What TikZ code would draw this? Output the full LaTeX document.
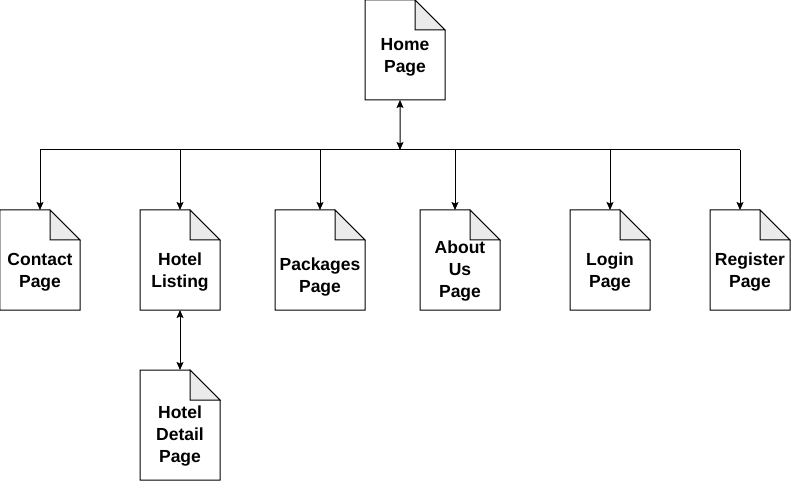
\documentclass[tikz,border=0pt]{standalone}
\usepackage{fontspec}
\setmainfont{Liberation Sans}
\usetikzlibrary{arrows.meta,calc}
\tikzset{
  pagebox/.style={draw=none, rectangle, inner sep=0pt, outer sep=0pt},
  pagetext/.style={align=center, inner sep=0pt, font=\fontsize{17.5bp}{22bp}\selectfont\bfseries},
  docline/.style={draw=black, line width=1bp, fill=white, line join=miter},
  foldline/.style={draw=black, line width=1bp, fill=fold, line join=miter},
  conn/.style={draw=black, line width=1bp, -{Stealth[length=8bp,width=7bp,inset=1.5bp]}},
  bconn/.style={draw=black, line width=1bp, {Stealth[length=8bp,width=7bp,inset=1.5bp]}-{Stealth[length=8bp,width=7bp,inset=1.5bp]}},
  busline/.style={draw=black, line width=1bp}
}
\definecolor{fold}{HTML}{EBEBEB}
\newcommand\docpage[7]{% name, cx, cy, w, h, text offset, text
  \node[pagebox, minimum width=#4bp, minimum height=#5bp] (#1) at (#2,#3) {};
  \path[docline] (#1.north west) -- ([xshift=-30bp]#1.north east) -- ([yshift=-30bp]#1.north east) -- (#1.south east) -- (#1.south west) -- cycle;
  \path[foldline] ([xshift=-30bp]#1.north east) -- ([xshift=-30bp,yshift=-30bp]#1.north east) -- ([yshift=-30bp]#1.north east) -- cycle;
  \node[pagetext] (#1-t) at ($(#1.center)+(0,#6)$) {#7};
}
\begin{document}
\begin{tikzpicture}[x=1bp, y=-1bp]
\useasboundingbox (0,0) rectangle (791,481);
\fill[white] (0,0) rectangle (791,481);
\docpage{home}{405}{50}{80}{100}{7.5}{Home\\Page}
\docpage{contact}{40}{260}{80}{100}{12}{Contact\\Page}
\docpage{listing}{180}{260}{80}{100}{12}{Hotel\\Listing}
\docpage{packages}{320}{260}{90}{100}{17}{Packages\\Page}
\docpage{about}{460}{260}{80}{100}{11.5}{About\\Us\\Page}
\docpage{login}{610}{260}{80}{100}{12}{Login\\Page}
\docpage{register}{750}{260}{80}{100}{12}{Register\\Page}
\docpage{detail}{180}{425}{80}{110}{11.5}{Hotel\\Detail\\Page}
\coordinate (bus) at (400,150);
\coordinate (busl) at (40,150);
\coordinate (busr) at (740,150);
\path[busline] (busl) -- (busr);
\path[bconn] ([xshift=-5bp]home.south) -- (bus);
\path[conn] (contact.north |- bus) -- (contact.north);
\path[conn] (listing.north |- bus) -- (listing.north);
\path[conn] (packages.north |- bus) -- (packages.north);
\path[conn] ([xshift=-5bp]about.north |- bus) -- ([xshift=-5bp]about.north);
\path[conn] (login.north |- bus) -- (login.north);
\path[conn] (busr) -- (busr |- register.north);
\path[bconn] (listing.south) -- (detail.north);
\end{tikzpicture}
\end{document}
